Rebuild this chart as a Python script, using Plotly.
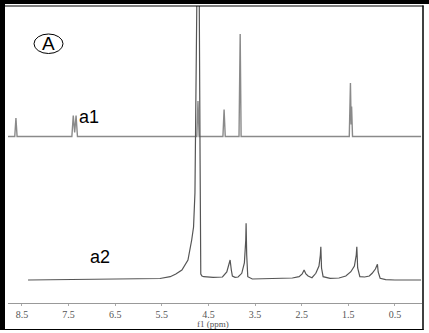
import plotly.graph_objects as go

# ---- data (ppm, intensity above each trace's baseline) ----
a1_ppm = [8.82, 8.655, 8.63, 8.605, 7.43, 7.40, 7.37, 7.34, 7.31,
          4.75, 4.725, 4.70, 4.19, 4.165, 4.14, 3.845, 3.82, 3.80,
          1.48, 1.455, 1.44, 1.43, 1.41, -0.06]
a1_int = [0, 0, 18.5, 0, 0, 21, 4, 21, 0,
          0, 35.5, 0, 0, 27, 0, 0, 102.5, 0,
          0, 53.5, 12, 30, 0, 0]

a2_ppm = [8.37, 7.5, 6.5, 5.75, 5.54, 5.32, 5.20, 5.07, 4.94, 4.86, 4.82, 4.79,
          4.785, 4.745, 4.735, 4.70, 4.68, 4.675, 4.665, 4.64, 4.60, 4.40, 4.20,
          4.107, 4.06, 4.036, 4.01, 3.987, 3.93, 3.865, 3.786, 3.73, 3.70, 3.693,
          3.68, 3.657, 3.56, 3.2, 2.964, 2.7, 2.556, 2.49, 2.449, 2.41, 2.363,
          2.28, 2.197, 2.13, 2.10, 2.09, 2.075, 2.041, 1.891, 1.70, 1.554, 1.446,
          1.37, 1.33, 1.318, 1.30, 1.253, 1.15, 1.05, 0.989, 0.92, 0.876, 0.86,
          0.818, 0.70, 0.50, -0.06]
a2_int = [0, 0.3, 0.6, 1, 1.5, 3.3, 6, 10, 20, 40, 53, 87,
          120, 300, 330, 300, 120, 10, 6, 4, 3.3, 2.7, 3,
          8, 15, 20, 10, 4, 2.7, 3, 6.7, 17, 40, 56.7,
          25, 3.3, 1, 1.3, 1.7, 2, 3.3, 6, 10, 6, 4,
          2.3, 6.7, 14, 25, 33.3, 12, 3.3, 1.7, 2, 4, 8.3,
          14, 25, 33.3, 12, 3.3, 3, 4, 6.7, 11, 15.7, 8,
          1.7, 0.3, 0, 0]

a1_offset = 166.5
a2_offset = 23.0

tick_vals = [8.5, 7.5, 6.5, 5.5, 4.5, 3.5, 2.5, 1.5, 0.5]
tick_text = ["8.5", "7.5", "6.5", "5.5", "4.5", "3.5", "2.5", "1.5", "0.5"]

# ---- layout geometry ----
W, H = 429, 333
L, R, T, B = 8, 7, 6, 30
PW, PH = W - L - R, H - T - B


def px(x):
    return (x - L) / PW


def py(y):
    return (H - B - y) / PH


fig = go.Figure()
fig.add_trace(go.Scatter(x=a1_ppm, y=[v + a1_offset for v in a1_int], mode="lines",
                         line=dict(color="#8a8a8a", width=1.4), hoverinfo="skip"))
fig.add_trace(go.Scatter(x=a2_ppm, y=[v + a2_offset for v in a2_int], mode="lines",
                         line=dict(color="#555555", width=1.2), hoverinfo="skip"))

shapes = [
    # outer frame
    dict(type="rect", xref="paper", yref="paper", x0=px(0), x1=px(5), y0=py(330), y1=py(0),
         fillcolor="black", line=dict(width=0), layer="above"),
    dict(type="rect", xref="paper", yref="paper", x0=px(0), x1=px(429), y0=py(4), y1=py(0),
         fillcolor="black", line=dict(width=0), layer="above"),
    dict(type="line", xref="paper", yref="paper", x0=px(5), x1=px(423.5), y0=py(6), y1=py(6),
         line=dict(color="black", width=1.2), layer="above"),
    dict(type="line", xref="paper", yref="paper", x0=px(423), x1=px(423), y0=py(5.5), y1=py(330),
         line=dict(color="black", width=1.5), layer="above"),
    dict(type="line", xref="paper", yref="paper", x0=px(0), x1=px(423.5), y0=py(329.5), y1=py(329.5),
         line=dict(color="black", width=1.2), layer="above"),
    # circled label
    dict(type="circle", xref="paper", yref="paper", x0=px(34), x1=px(63), y0=py(53.5), y1=py(34),
         line=dict(color="black", width=1)),
]

annotations = [
    dict(text="A", xref="paper", yref="paper", x=px(48.5), y=py(44), showarrow=False,
         xanchor="center", yanchor="middle", font=dict(family="Liberation Sans, Arial", size=19, color="black")),
    dict(text="a1", xref="paper", yref="paper", x=px(88.5), y=py(116.5), showarrow=False,
         xanchor="center", yanchor="middle", font=dict(family="Liberation Sans, Arial", size=18, color="black")),
    dict(text="a2", xref="paper", yref="paper", x=px(100), y=py(256.5), showarrow=False,
         xanchor="center", yanchor="middle", font=dict(family="Liberation Sans, Arial", size=18, color="black")),
    dict(text="f1 (ppm)", xref="paper", yref="paper", x=px(213), y=py(323.5), showarrow=False,
         xanchor="center", yanchor="middle", font=dict(family="Liberation Serif, Times New Roman", size=9, color="#555")),
]

fig.update_layout(
    width=W, height=H,
    margin=dict(l=L, r=R, t=T, b=B, pad=0),
    paper_bgcolor="white", plot_bgcolor="white",
    showlegend=False, hovermode=False,
    shapes=shapes, annotations=annotations,
    xaxis=dict(range=[8.80, -0.08], tickvals=tick_vals, ticktext=tick_text,
               showline=True, linecolor="#999999", linewidth=1, mirror=False,
               ticks="outside", ticklen=2, tickcolor="#aaaaaa",
               showgrid=False, zeroline=False,
               tickfont=dict(family="Liberation Serif, Times New Roman", size=10, color="#555")),
    yaxis=dict(range=[0, PH], visible=False, showgrid=False, zeroline=False),
)

fig.write_html("out.html", config=dict(displayModeBar=False))
